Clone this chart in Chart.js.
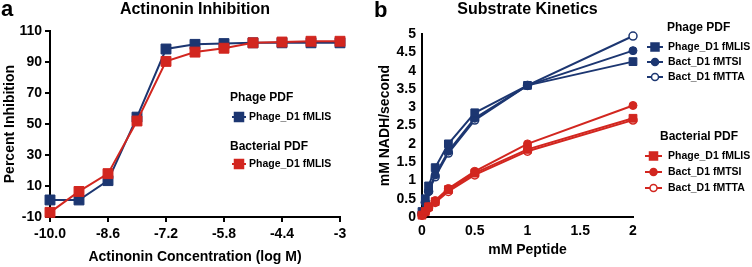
<!DOCTYPE html>
<html>
<head>
<meta charset="utf-8">
<script src="https://cdn.jsdelivr.net/npm/chart.js@4.4.0/dist/chart.umd.min.js"></script>
<style>
html, body { margin: 0; padding: 0; background: #fff; }
#wrap { position: relative; width: 752px; height: 267px; overflow: hidden; }
canvas { position: absolute; top: 0; }
</style>
</head>
<body>
<div id="wrap">
  <canvas id="chartA" width="370" height="267" style="left:0"></canvas>
  <canvas id="chartB" width="382" height="267" style="left:370px"></canvas>
</div>
<script>
// ---- panel a: actinonin inhibition ----
const concLog = [-10, -9.3, -8.6, -7.9, -7.2, -6.5, -5.8, -5.1, -4.4, -3.7, -3];
const phageInhibition = [1, 1, 13.5, 54.5, 98.5, 101.5, 102, 102.5, 102.5, 102.5, 102.5];
const bactInhibition = [-7, 6.5, 18, 52, 90.5, 96.5, 99, 102.5, 103, 103.5, 103.5];
const concTicks = [-10, -8.6, -7.2, -5.8, -4.4, -3];
const concTickLabels = ['-10.0', '-8.6', '-7.2', '-5.8', '-4.4', '-3'];
const inhibTicks = [-10, 10, 30, 50, 70, 90, 110];

// ---- panel b: substrate kinetics ----
const peptideMM = [0, 0.03125, 0.0625, 0.125, 0.25, 0.5, 1, 2];
const phagePdfMLIS = [0.15, 0.5, 0.85, 1.35, 2.0, 2.85, 3.6, 4.25];
const phagePdfMTSI = [0.1, 0.4, 0.7, 1.15, 1.8, 2.7, 3.6, 4.55];
const phagePdfMTTA = [0.1, 0.4, 0.7, 1.1, 1.75, 2.65, 3.6, 4.95];
const bactPdfMLIS = [0.05, 0.15, 0.28, 0.42, 0.75, 1.2, 1.85, 2.7];
const bactPdfMTSI = [0.05, 0.15, 0.28, 0.45, 0.78, 1.25, 2.0, 3.05];
const bactPdfMTTA = [0.05, 0.13, 0.25, 0.4, 0.7, 1.15, 1.8, 2.65];
const peptideTicks = [0, 0.5, 1, 1.5, 2];
const rateTicks = [0, 0.5, 1, 1.5, 2, 2.5, 3, 3.5, 4, 4.5, 5];

const BLUE = '#1c3671';
const RED = '#d2261f';
const FONT = "'Liberation Sans', Arial, sans-serif";

function pts(xs, ys) {
    return xs.map((x, i) => ({ x: x, y: ys[i] }));
}

// panel letter + grouped legend, drawn after the chart
const panelDecor = {
    id: 'panelDecor',
    afterDraw(chart, args, opts) {
        const ctx = chart.ctx;
        ctx.save();
        ctx.textBaseline = 'middle';
        ctx.textAlign = 'left';
        ctx.fillStyle = '#000';
        ctx.font = 'bold 22px ' + FONT;
        ctx.fillText(opts.letter, opts.letterX, opts.letterY);
        opts.groups.forEach(g => {
            ctx.fillStyle = '#000';
            ctx.font = 'bold 12px ' + FONT;
            ctx.fillText(g.title, g.x, g.y);
            g.items.forEach((it, i) => {
                const y = g.rows[i];
                ctx.strokeStyle = it.color;
                ctx.lineWidth = 2;
                ctx.beginPath();
                ctx.moveTo(g.line[0], y);
                ctx.lineTo(g.line[1], y);
                ctx.stroke();
                const mx = (g.line[0] + g.line[1]) / 2;
                ctx.fillStyle = it.open ? '#fff' : it.color;
                ctx.lineWidth = 1.5;
                ctx.beginPath();
                if (it.style === 'rect') {
                    ctx.rect(mx - g.size / 2, y - g.size / 2, g.size, g.size);
                } else {
                    ctx.arc(mx, y, g.size / 2 - 0.5, 0, Math.PI * 2);
                }
                ctx.fill();
                ctx.stroke();
                ctx.fillStyle = '#000';
                ctx.font = 'bold 10.5px ' + FONT;
                ctx.fillText(it.label, g.textX, y);
            });
        });
        ctx.restore();
    }
};

function axis(opts) {
    return {
        type: 'linear',
        position: opts.position,
        min: opts.min,
        max: opts.max,
        afterFit: s => {
            if (opts.position === 'left') s.width = opts.size; else s.height = opts.size;
        },
        afterBuildTicks: s => { s.ticks = opts.ticks.map(v => ({ value: v })); },
        border: { display: true, color: '#000', width: 2 },
        grid: {
            display: opts.tickMarks,
            drawOnChartArea: false,
            drawTicks: opts.tickMarks,
            tickLength: 5,
            color: '#000',
            lineWidth: 2
        },
        ticks: {
            autoSkip: false,
            maxRotation: 0,
            padding: opts.tickPad,
            color: '#000',
            font: { family: FONT, size: 14, weight: 'bold' },
            callback: (v, i) => opts.labels ? opts.labels[i] : String(v)
        },
        title: {
            display: true,
            text: opts.title,
            color: '#000',
            font: { family: FONT, size: 14, weight: 'bold' },
            padding: opts.titlePad
        }
    };
}

function line(label, xs, ys, color, style, radius, open) {
    return {
        label: label,
        data: pts(xs, ys),
        showLine: true,
        borderColor: color,
        borderWidth: 2,
        pointStyle: style,
        pointRadius: radius,
        pointBorderWidth: open ? 1.5 : 1,
        pointBackgroundColor: open ? '#fff' : color,
        pointBorderColor: color,
        tension: 0,
        clip: false
    };
}

Chart.defaults.animation = false;

new Chart(document.getElementById('chartA'), {
    type: 'scatter',
    data: {
        datasets: [
            line('Bacterial PDF Phage_D1 fMLIS', concLog, bactInhibition, RED, 'rect', 7, false),
            line('Phage PDF Phage_D1 fMLIS', concLog, phageInhibition, BLUE, 'rect', 7, false)
        ]
    },
    options: {
        responsive: false,
        layout: { padding: { left: 0, right: 30, top: 0, bottom: 0 } },
        scales: {
            x: axis({ position: 'bottom', min: -10, max: -3, size: 50, ticks: concTicks, labels: concTickLabels,
                      tickMarks: true, tickPad: 4, title: 'Actinonin Concentration (log M)', titlePad: { top: 0, bottom: 1 } }),
            y: axis({ position: 'left', min: -10, max: 110, size: 50, ticks: inhibTicks,
                      tickMarks: true, tickPad: 3, title: 'Percent Inhibition', titlePad: { top: 2, bottom: 0 } })
        },
        plugins: {
            legend: { display: false },
            tooltip: { enabled: false },
            title: {
                display: true, text: 'Actinonin Inhibition', fullSize: false, color: '#000',
                font: { family: FONT, size: 16, weight: 'bold' }, padding: { top: 0, bottom: 12 }
            },
            panelDecor: {
                letter: 'a', letterX: 1, letterY: 10,
                groups: [
                    { title: 'Phage PDF', x: 230, y: 98, line: [232, 246], textX: 249, rows: [117], size: 9,
                      items: [{ label: 'Phage_D1 fMLIS', color: BLUE, style: 'rect' }] },
                    { title: 'Bacterial PDF', x: 230, y: 147, line: [232, 246], textX: 249, rows: [164], size: 9,
                      items: [{ label: 'Phage_D1 fMLIS', color: RED, style: 'rect' }] }
                ]
            }
        }
    },
    plugins: [panelDecor]
});

new Chart(document.getElementById('chartB'), {
    type: 'scatter',
    data: {
        datasets: [
            line('Bacterial PDF Phage_D1 fMLIS', peptideMM, bactPdfMLIS, RED, 'rect', 5.5, false),
            line('Bacterial PDF Bact_D1 fMTSI', peptideMM, bactPdfMTSI, RED, 'circle', 4, false),
            line('Bacterial PDF Bact_D1 fMTTA', peptideMM, bactPdfMTTA, RED, 'circle', 4, true),
            line('Phage PDF Phage_D1 fMLIS', peptideMM, phagePdfMLIS, BLUE, 'rect', 5.5, false),
            line('Phage PDF Bact_D1 fMTSI', peptideMM, phagePdfMTSI, BLUE, 'circle', 4, false),
            line('Phage PDF Bact_D1 fMTTA', peptideMM, phagePdfMTTA, BLUE, 'circle', 4, true)
        ]
    },
    options: {
        responsive: false,
        layout: { padding: { left: 0, right: 119, top: 0, bottom: 0 } },
        scales: {
            x: axis({ position: 'bottom', min: 0, max: 2, size: 50, ticks: peptideTicks,
                      tickMarks: false, tickPad: 6, title: 'mM Peptide', titlePad: { top: 0, bottom: 8 } }),
            y: axis({ position: 'left', min: 0, max: 5, size: 52, ticks: rateTicks,
                      tickMarks: false, tickPad: 6, title: 'mM NADH/second', titlePad: { top: 7, bottom: 0 } })
        },
        plugins: {
            legend: { display: false },
            tooltip: { enabled: false },
            title: {
                display: true, text: 'Substrate Kinetics', fullSize: false, color: '#000',
                font: { family: FONT, size: 16, weight: 'bold' }, padding: { top: 0, bottom: 15 }
            },
            panelDecor: {
                letter: 'b', letterX: 4, letterY: 11,
                groups: [
                    { title: 'Phage PDF', x: 297, y: 28, line: [277, 293], textX: 298, rows: [47, 62, 77], size: 8,
                      items: [
                          { label: 'Phage_D1 fMLIS', color: BLUE, style: 'rect' },
                          { label: 'Bact_D1 fMTSI', color: BLUE, style: 'circle' },
                          { label: 'Bact_D1 fMTTA', color: BLUE, style: 'circle', open: true }
                      ] },
                    { title: 'Bacterial PDF', x: 290, y: 137, line: [275, 292], textX: 298, rows: [156, 172, 188], size: 8,
                      items: [
                          { label: 'Phage_D1 fMLIS', color: RED, style: 'rect' },
                          { label: 'Bact_D1 fMTSI', color: RED, style: 'circle' },
                          { label: 'Bact_D1 fMTTA', color: RED, style: 'circle', open: true }
                      ] }
                ]
            }
        }
    },
    plugins: [panelDecor]
});
</script>
</body>
</html>
